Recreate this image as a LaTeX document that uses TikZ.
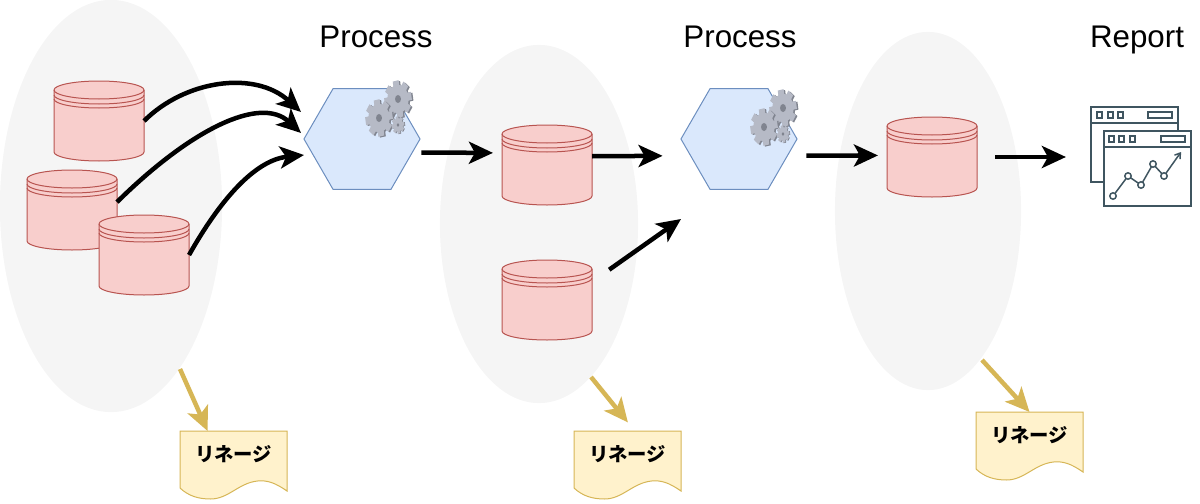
\documentclass[tikz,border=0pt]{standalone}
\usepackage{fontspec}
\setmainfont{Liberation Sans}
\newfontfamily\cjk{Noto Sans CJK JP}
\usetikzlibrary{shapes.geometric,arrows.meta}
\definecolor{zonegray}{HTML}{F5F5F5}
\definecolor{storefill}{HTML}{F8CECC}
\definecolor{storeline}{HTML}{B85450}
\definecolor{procfill}{HTML}{DAE8FC}
\definecolor{procline}{HTML}{6C8EBF}
\definecolor{notefill}{HTML}{FFF2CC}
\definecolor{noteline}{HTML}{D6B656}
\definecolor{gearface}{HTML}{B6BAC6}
\definecolor{geardark}{HTML}{80848F}
\definecolor{iconline}{HTML}{3F5560}
\tikzset{
  zone node/.style={ellipse,fill=zonegray,inner sep=0pt},
  store node/.style={draw=none,minimum width=0.9cm,minimum height=0.8cm,inner sep=0pt,outer sep=0pt},
  proc node/.style={regular polygon,regular polygon sides=6,minimum size=1.16cm,
                    inner sep=0pt,outer sep=0pt,fill=procfill,draw=procline,line width=0.01cm},
  title node/.style={font=\fontsize{8.9}{10}\selectfont,text height=0.22cm,text depth=0.06cm},
  note node/.style={minimum width=1.07cm,minimum height=0.64cm,inner sep=0pt,outer sep=0pt},
  main arrow/.style={-{Stealth[length=0.24cm,width=0.22cm,inset=0.06cm]},line width=0.045cm,black},
  gold arrow/.style={-{Stealth[length=0.24cm,width=0.22cm,inset=0.06cm]},line width=0.045cm,noteline},
  store/.pic={
    \node[store node] (box) at (0,0) {};
    \draw[fill=storefill,draw=storeline,line width=0.01cm]
      (-45,-31) -- (-45,31) arc[start angle=180,end angle=360,x radius=45,y radius=-9]
      -- (45,-31) arc[start angle=0,end angle=180,x radius=45,y radius=-9] -- cycle;
    \draw[storeline,line width=0.01cm] (-45,-31) arc[start angle=180,end angle=360,x radius=45,y radius=-9]
      (-45,-26) arc[start angle=180,end angle=360,x radius=45,y radius=-9]
      (-45,-22) arc[start angle=180,end angle=360,x radius=45,y radius=-9];
  },
  note/.pic={
    \node[note node] (box) at (0,0) {};
    \draw[fill=notefill,draw=noteline,line width=0.01cm] (-53.5,-32) -- (53.5,-32) -- (53.5,28)
      .. controls (42,20) and (34,17) .. (24,18) .. controls (5,20) and (-5,36) .. (-23,36)
      .. controls (-35,36) and (-45,33) .. (-53.5,25) -- cycle;
    \node[font=\fontsize{5.5}{7}\cjk\bfseries] (text) at (0,-9) {リネージ};
  },
  gear/.pic={
    \begin{scope}[xscale=0.85,yscale=1.15]
    \foreach \col/\off in {geardark/1.8,gearface/0}{
      \fill[\col,shift={(\off,\off*0.4)}] (0,0) circle[radius=12.5];
      \foreach \ang in {0,45,...,315}
        \fill[\col,shift={(\off,\off*0.4)},rotate=\ang+10] (-3.5,0) rectangle (3.5,16);
    }
    \fill[geardark] (0,0) circle[radius=3.5];
    \end{scope}
  },
  gear set/.pic={
    \pic at (0,0) {gear};
    \pic at (-19,19) {gear};
    \pic[scale=0.47] at (0,26) {gear};
  },
}
\begin{document}
\begin{tikzpicture}[x=0.01cm,y=-0.01cm]
\useasboundingbox (0,0) rectangle (1200,503);

% background zones
\node at (111,206) [zone node,minimum width=2.22cm,minimum height=4.12cm] (zone1) {};
\node at (539,224) [zone node,minimum width=1.98cm,minimum height=3.58cm] (zone2) {};
\node at (928,211) [zone node,minimum width=1.86cm,minimum height=3.58cm] (zone3) {};

% titles
\node at (376,39) [title node] (title1) {Process};
\node at (740,39) [title node] (title2) {Process};
\node at (1137,39) [title node] (title3) {Report};

% data stores
\pic (src1) at (99,121) {store};
\pic (src2) at (72,210) {store};
\pic (src3) at (144,255) {store};
\pic (mid1) at (547,165) {store};
\pic (mid2) at (547,300) {store};
\pic (out) at (932,157) {store};

% processes
\node at (362,139) [proc node] (proc1) {};
\node at (739,139) [proc node] (proc2) {};
\pic at (398,99) {gear set};
\pic at (783,108) {gear set};

% report icon
\node at (1141,157) [minimum width=1cm,minimum height=1cm,inner sep=0pt,outer sep=0pt] (report) {};
\begin{scope}[draw=iconline,line width=0.015cm]
\draw (1104,182) -- (1091,182) -- (1091,107) -- (1178,107) -- (1178,131);
\draw (1091,123) -- (1178,123);
\draw (1104,131) rectangle (1191,206);
\draw (1104,147) -- (1191,147);
\foreach \xa in {1097,1108,1118} \draw (\xa,112) rectangle +(5,6);
\draw (1148,112) rectangle (1172,118);
\foreach \xa in {1109,1119,1130} \draw (\xa,136) rectangle +(5,6);
\draw (1161,136) rectangle (1185,142);
\draw[-{Straight Barb[length=0.05cm,width=0.07cm]}] (1113,196) -- (1128,176) -- (1141,185) -- (1153,164) -- (1164,176) -- (1181,152);
\foreach \xa/\ya in {1113/196,1128/176,1141/185,1153/164,1164/176}
  \draw[fill=white] (\xa,\ya) circle[radius=3.2];
\end{scope}

% lineage notes
\pic (note1) at (233.5,463) {note};
\pic (note2) at (627.5,463) {note};
\pic (note3) at (1029.5,444) {note};

% free ends
\coordinate (in1) at (301,112);
\coordinate (in2) at (301,133);
\coordinate (in3) at (304,155);
\coordinate (proc2in) at (681,219);
\coordinate (lin1) at (180,369);
\coordinate (lin2) at (591,377);
\coordinate (lin3) at (982,360);

\draw[main arrow] (src1box.east) .. controls (185,80) and (255,70) .. (in1);
\draw[main arrow] (src2box.10) .. controls (190,130) and (260,95) .. (in2);
\draw[main arrow] (src3box.east) .. controls (220,200) and (255,160) .. (in3);
\draw[main arrow,shorten <=0.09cm,shorten >=0.09cm] (proc1.-15.6) -- (mid1box.165);
\draw[main arrow,shorten >=0.28cm] (mid1box.11.3) -- (proc2.199.5);
\draw[main arrow,shorten <=0.21cm] (mid2box.22.9) -- (proc2in);
\draw[main arrow,shorten <=0.19cm,shorten >=0.09cm] (proc2.-19.5) -- (outbox.178.7);
\draw[main arrow,shorten <=0.18cm,shorten >=0.25cm] (outbox.east) -- (report.west);
\draw[gold arrow] (lin1) -- (note1box.129);
\draw[gold arrow,shorten >=0.11cm] (lin2) -- (note2box.77);
\draw[gold arrow] (lin3) -- (note3box.north);
\end{tikzpicture}
\end{document}
